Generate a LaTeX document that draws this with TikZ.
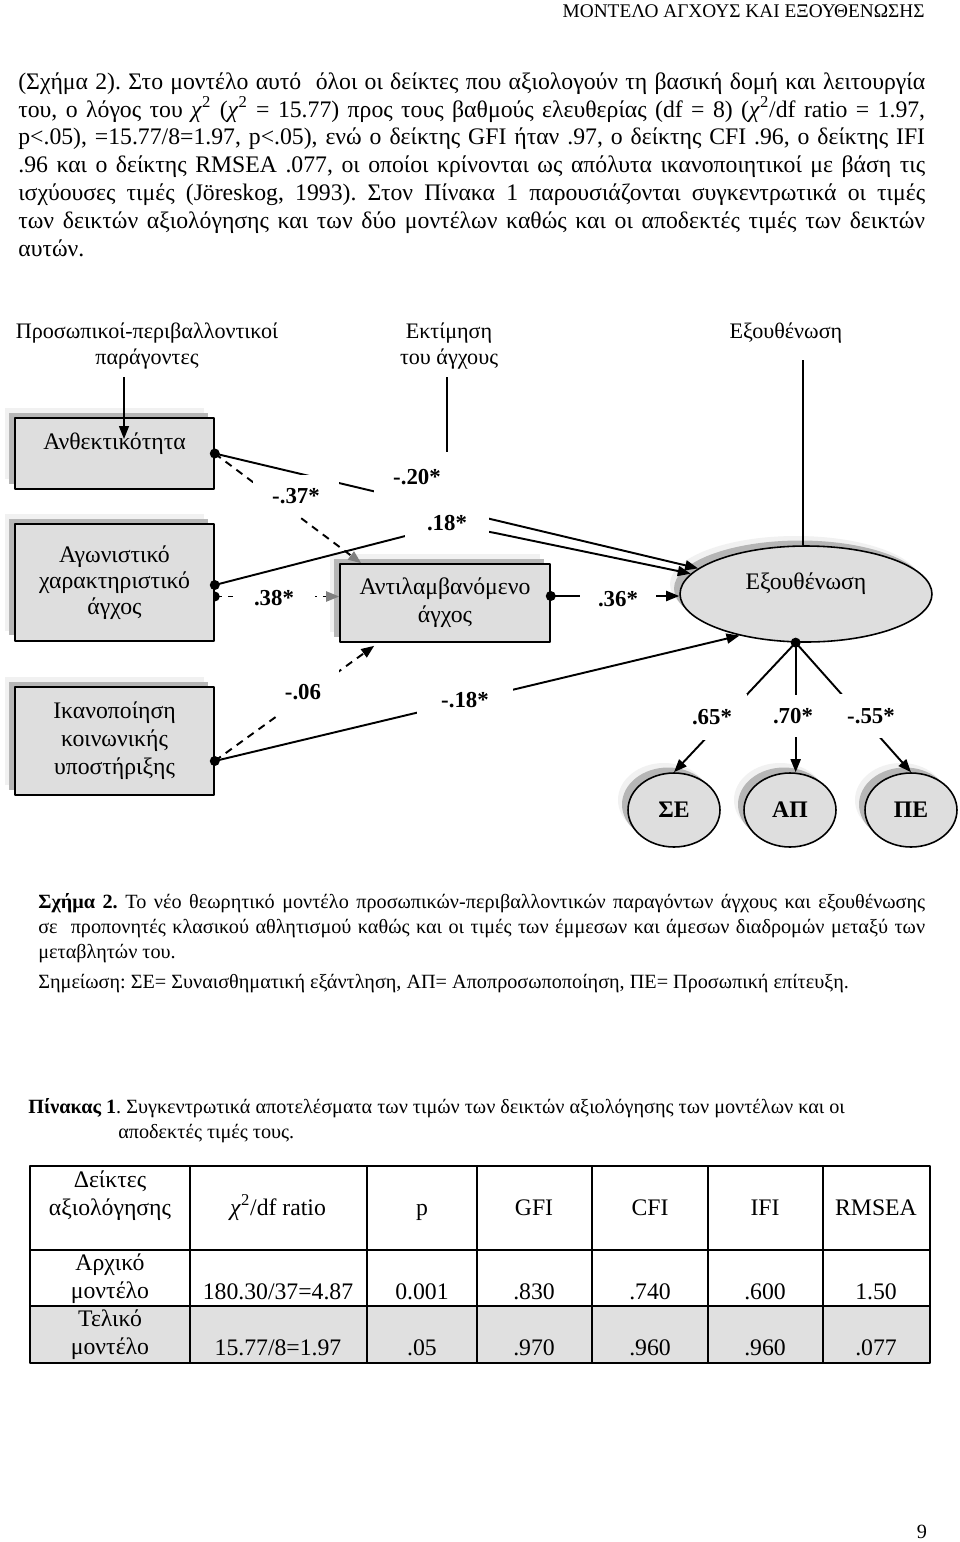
\documentclass[tikz,border=0pt]{standalone}
\usepackage{fontspec}
\setmainfont{Liberation Serif}
\usetikzlibrary{shapes.geometric,arrows.meta,shadows,calc}
\definecolor{boxgray}{RGB}{222,222,222}
\definecolor{shadegray}{RGB}{182,182,182}
\definecolor{glowgray}{RGB}{241,241,241}
\definecolor{rowgray}{RGB}{224,224,224}
\newcommand\bodysize{\fontsize{13.5}{15.9}\selectfont}
\newcommand\capsize{\fontsize{11.5}{14.2}\selectfont}
\newcommand\chisq{\textit{χ}\textsuperscript{2}}
\frenchspacing

\begin{document}
\begin{tikzpicture}[x=0.02cm, y=-0.02cm, line join=round,
  >={Triangle[length=2.6mm,width=2mm]},
  every node/.style={font=\bodysize, inner sep=0pt},
  headlbl/.style={font=\fontsize{12.6}{14.8}\selectfont, align=center},
  obsbox/.style={draw, line width=0.9pt, fill=boxgray, align=center,
    general shadow={fill=glowgray, shadow xshift=-2mm, shadow yshift=2mm},
    general shadow={fill=shadegray, shadow xshift=-1.2mm, shadow yshift=1.1mm}},
  latent/.style={obsbox, ellipse},
  coef/.style={fill=white, font=\fontsize{13}{15}\selectfont\bfseries},
  pathln/.style={line width=1.1pt},
  dashln/.style={line width=1.1pt, dash pattern=on 1.5mm off 1.2mm},
  grayhead/.style={-{Triangle[length=2.6mm,width=2mm,color=gray]}}]
\useasboundingbox (0,0) rectangle (960,1542);
\fill[white] (0,0) rectangle (960,1542);
\def\bw{18.14cm}
% text above the figure
\node[anchor=east, font=\fontsize{11}{13}\selectfont] (runhead) at (925,11) {ΜΟΝΤΕΛΟ ΑΓΧΟΥΣ ΚΑΙ ΕΞΟΥΘΕΝΩΣΗΣ};
\node[anchor=north west, align=left] (body) at (18,72) {%
\makebox[\bw][s]{(Σχήμα 2). Στο μοντέλο αυτό\ \ όλοι οι δείκτες που αξιολογούν τη βασική δομή και λειτουργία}\\
\makebox[\bw][s]{του, ο λόγος του \chisq{} (\chisq{} = 15.77) προς τους βαθμούς ελευθερίας (df = 8) (\chisq/df ratio = 1.97,}\\
\makebox[\bw][s]{p<.05), =15.77/8=1.97, p<.05), ενώ ο δείκτης GFI ήταν .97, ο δείκτης CFI .96, ο δείκτης IFI}\\
\makebox[\bw][s]{.96 και ο δείκτης RMSEA .077, οι οποίοι κρίνονται ως απόλυτα ικανοποιητικοί με βάση τις}\\
\makebox[\bw][s]{ισχύουσες τιμές (Jöreskog, 1993). Στον Πίνακα 1 παρουσιάζονται συγκεντρωτικά οι τιμές}\\
\makebox[\bw][s]{των δεικτών αξιολόγησης και των δύο μοντέλων καθώς και οι αποδεκτές τιμές των δεικτών}\\
αυτών.};
% the model
\node[headlbl] (hpers) at (147,346) {Προσωπικοί-περιβαλλοντικοί\\παράγοντες};
\node[headlbl] (hstress) at (449,346) {Εκτίμηση\\του άγχους};
\node[headlbl] (hburn) at (786,333) {Εξουθένωση};
\node[obsbox, minimum width=39.8mm, minimum height=14.2mm, text height=9.5pt, text depth=14.6pt] (anth) at (114.5,453.5) {Ανθεκτικότητα};
\node[obsbox, minimum width=39.8mm, minimum height=23.4mm] (agon) at (114.5,582.5) {Αγωνιστικό\\[-1pt]χαρακτηριστικό\\[-1pt]άγχος};
\node[obsbox, minimum width=39.8mm, minimum height=21.6mm] (ikan) at (114.5,741) {Ικανοποίηση\\κοινωνικής\\υποστήριξης};
\node[obsbox, minimum width=42mm, minimum height=15.6mm] (anti) at (445,603) {Αντιλαμβανόμενο\\άγχος};
\node[latent, minimum width=50.4mm, minimum height=19.2mm, text height=9.5pt, text depth=14.6pt] (burn) at (806,594) {Εξουθένωση};
\foreach \nm/\cx/\txt in {se/674/ΣΕ, ap/790/ΑΠ, pe/911/ΠΕ}
  \node[latent, minimum width=18.4mm, minimum height=14.8mm, font=\bodysize\bfseries] (\nm) at (\cx,810) {\txt};
\coordinate (agdotA) at ($(agon.east)+(0,2.5)$);
\coordinate (agdotB) at ($(agon.east)+(0,14)$);
\coordinate (ikdot) at ($(ikan.east)+(0,20)$);
\coordinate (antidot) at ($(anti.east)+(0,-7)$);
\coordinate (bdot) at (burn.258);
\coordinate (antiN) at ($(anti.north west)+(22,0)$);
\coordinate (antiS) at ($(anti.south west)+(35,3)$);
\coordinate (bend18) at (452,524);
\coordinate (hp1) at (124,377); \coordinate (hp2) at (124,439);
\coordinate (hs1) at (447,377); \coordinate (hs2) at (447,452);
\coordinate (hb1) at (803,360);
\draw[line width=0.8pt,->] (hp1) -- (hp2);
\draw[line width=0.8pt] (hs1) -- (hs2);
\draw[line width=0.8pt] (hb1) -- (hb1 |- burn.north);
\draw[pathln,->] (anth.east) -- (burn);
\draw[dashln,grayhead] (anth.east) -- (antiN);
\draw[pathln,->,rounded corners=25pt] (agdotA) -- (bend18) -- (burn.170);
\draw[dashln,grayhead] (agdotB) -- (agdotB -| anti.west);
\draw[pathln,->] (antidot) -- (antidot -| burn.west);
\draw[dashln,->] (ikdot) -- (antiS);
\draw[pathln,->] (ikdot) -- (burn.212);
\draw[pathln,->] (bdot) -- (se.north);
\draw[pathln,->] (bdot) -- (bdot |- ap.north);
\draw[pathln,->] (bdot) -- (pe.north);
\fill (anth.east) circle[radius=1mm];
\fill (agdotA) circle[radius=1mm];
\fill (agdotB) ++(0,-5) arc[start angle=90,end angle=-90,radius=1mm] -- cycle;
\fill (ikdot) circle[radius=1mm];
\fill (antidot) circle[radius=1mm];
\fill (bdot) circle[radius=1mm];
\node[coef, minimum width=17.4mm, minimum height=8.4mm] (c37) at (296,496) {-.37*};
\node[coef, minimum width=17.2mm, minimum height=10mm] (c20) at (417,477) {-.20*};
\node[coef, minimum width=16.8mm, minimum height=9.6mm] (c18) at (447,523) {.18*};
\node[coef, minimum width=16.4mm, minimum height=6mm] (c38) at (274,598) {.38*};
\node[coef, minimum width=15.4mm, minimum height=6mm] (c36) at (618,599) {.36*};
\node[coef, minimum width=14.4mm, minimum height=9.2mm] (c06) at (303,692) {-.06};
\node[coef, minimum width=19.2mm, minimum height=6mm] (c18b) at (465,700) {-.18*};
\node[coef, minimum width=14mm, minimum height=9.2mm] (c65) at (712,717) {.65*};
\node[coef, minimum width=10mm, minimum height=8.4mm] (c70) at (793,716) {.70*};
\node[coef, minimum width=12.4mm, minimum height=8.8mm] (c55) at (871,716) {-.55*};
% caption and note
\node[anchor=north west, align=left, font=\capsize] (cap) at (38,893) {%
\makebox[17.74cm][s]{\textbf{Σχήμα 2.} Το νέο θεωρητικό μοντέλο προσωπικών-περιβαλλοντικών παραγόντων άγχους και εξουθένωσης}\\
\makebox[17.74cm][s]{σε\ \ προπονητές κλασικού αθλητισμού καθώς και οι τιμές των έμμεσων και άμεσων διαδρομών μεταξύ των}\\
μεταβλητών του.};
\node[anchor=north west, font=\capsize] (note) at (38,974) {Σημείωση: ΣΕ= Συναισθηματική εξάντληση, ΑΠ= Αποπροσωποποίηση, ΠΕ= Προσωπική επίτευξη.};
% table
\node[anchor=north west, align=left, font=\capsize] (tabcap) at (28,1098) {\textbf{Πίνακας 1}. Συγκεντρωτικά αποτελέσματα των τιμών των δεικτών αξιολόγησης των μοντέλων και οι\\\hspace*{18mm}αποδεκτές τιμές τους.};
\fill[rowgray] (30,1306) rectangle (930,1363);
\draw[line width=0.9pt] (30,1166) rectangle (930,1363);
\foreach \yy in {1250,1306} \draw[line width=0.9pt] (30,\yy) -- (930,\yy);
\foreach \xx in {190,367,477,592,708,823} \draw[line width=0.9pt] (\xx,1166) -- (\xx,1363);
\node[align=center] (thead) at (110,1196) {Δείκτες\\αξιολόγησης};
\node[align=center] (tinit) at (110,1279) {Αρχικό\\μοντέλο};
\node[align=center] (tfinal) at (110,1335) {Τελικό\\μοντέλο};
\foreach \cx/\hd/\va/\vb [count=\k] in {278/{\chisq/df ratio}/{180.30/37=4.87}/{15.77/8=1.97},
  422/p/0.001/.05, 534/GFI/.830/.970, 650/CFI/.740/.960, 765/IFI/.600/.960, 876/RMSEA/1.50/.077} {
  \node[anchor=base] (th\k) at (\cx,1215) {\hd};
  \node[anchor=base] (ta\k) at (\cx,1299) {\va};
  \node[anchor=base] (tb\k) at (\cx,1355) {\vb};
}
\node[font=\capsize] (pagenum) at (922,1532) {9};
\end{tikzpicture}
\end{document}
